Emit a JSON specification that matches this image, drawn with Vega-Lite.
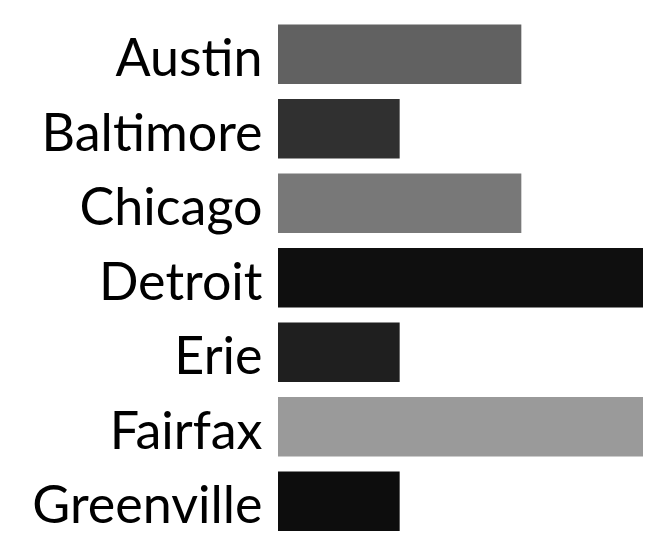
{
  "$schema": "https://vega.github.io/schema/vega-lite/v6.json",
  "autosize": {"type": "none"},
  "width": 365,
  "height": 521.5,
  "padding": {"left": 278, "top": 17, "right": 7, "bottom": 11},
  "background": "white",
  "config": {"view": {"stroke": null}},
  "data": {"values": [
    {"city": "Austin", "value": 2},
    {"city": "Baltimore", "value": 1},
    {"city": "Chicago", "value": 2},
    {"city": "Detroit", "value": 3},
    {"city": "Erie", "value": 1},
    {"city": "Fairfax", "value": 3},
    {"city": "Greenville", "value": 1}
  ]},
  "mark": {"type": "bar"},
  "encoding": {
    "y": {
      "field": "city", "type": "nominal", "sort": null,
      "scale": {"paddingInner": 0.2, "paddingOuter": 0.1},
      "axis": {"title": null, "ticks": false, "domain": false, "labelFont": "Lato", "labelFontSize": 52, "labelColor": "#000000", "labelPadding": 16, "labelLimit": 300, "labelOffset": 6}
    },
    "x": {
      "field": "value", "type": "quantitative",
      "scale": {"domain": [0, 3], "nice": false, "zero": true},
      "axis": null
    },
    "color": {
      "field": "city", "type": "nominal", "legend": null,
      "scale": {
        "domain": ["Austin", "Baltimore", "Chicago", "Detroit", "Erie", "Fairfax", "Greenville"],
        "range": ["#616161", "#303030", "#787878", "#0f0f0f", "#1f1f1f", "#9a9a9a", "#0d0d0d"]
      }
    }
  }
}
